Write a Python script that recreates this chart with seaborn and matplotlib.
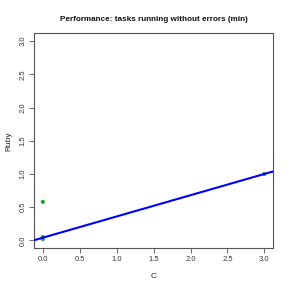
import matplotlib
matplotlib.use("Agg")
import matplotlib.pyplot as plt
import seaborn as sns
import pandas as pd

# data
c_times = [0.0, 0.0, 0.0, 3.0]
ruby_times = [0.58, 0.05, 0.02, 1.0]
line_intercept = 0.04
line_slope = 0.32
x_ticks = [0.0, 0.5, 1.0, 1.5, 2.0, 2.5, 3.0]
y_ticks = [0.0, 0.5, 1.0, 1.5, 2.0, 2.5, 3.0]

sns.set_theme(style="ticks")
plt.rcParams['font.family'] = ['Liberation Sans', 'DejaVu Sans']

df = pd.DataFrame({"C": c_times, "Ruby": ruby_times})

fig = plt.figure(figsize=(2.91, 2.91), dpi=100)
ax = fig.add_axes([0.1168, 0.1467, 0.822, 0.739])

sns.scatterplot(data=df, x="C", y="Ruby", ax=ax, color="#2ca02c",
                s=9, edgecolor="none", zorder=2)
ax.axline((0, line_intercept), slope=line_slope, color="#0000ff", lw=1.5, zorder=3)

ax.set_xlim(-0.12, 3.12)
ax.set_ylim(-0.12, 3.12)
ax.set_xticks(x_ticks)
ax.set_yticks(y_ticks)
ax.set_xticklabels([f"{v:.1f}" for v in x_ticks])
ax.set_yticklabels([f"{v:.1f}" for v in y_ticks], rotation=90, va="center")

for sp in ax.spines.values():
    sp.set_visible(True)
    sp.set_color("#555555")
    sp.set_linewidth(0.8)

ax.tick_params(axis="both", direction="out", length=3.5, width=0.6,
               color="#555555", labelsize=5.5, labelcolor="#333333", pad=2)

ax.set_xlabel("C", fontsize=6, color="#222222", labelpad=7)
ax.set_ylabel("Ruby", fontsize=6, color="#222222", labelpad=5)
ax.set_title("Performance: tasks running without errors (min)",
             fontsize=5.9, fontweight="bold", color="#111111", pad=9)

fig.savefig("out.png", dpi=100)
